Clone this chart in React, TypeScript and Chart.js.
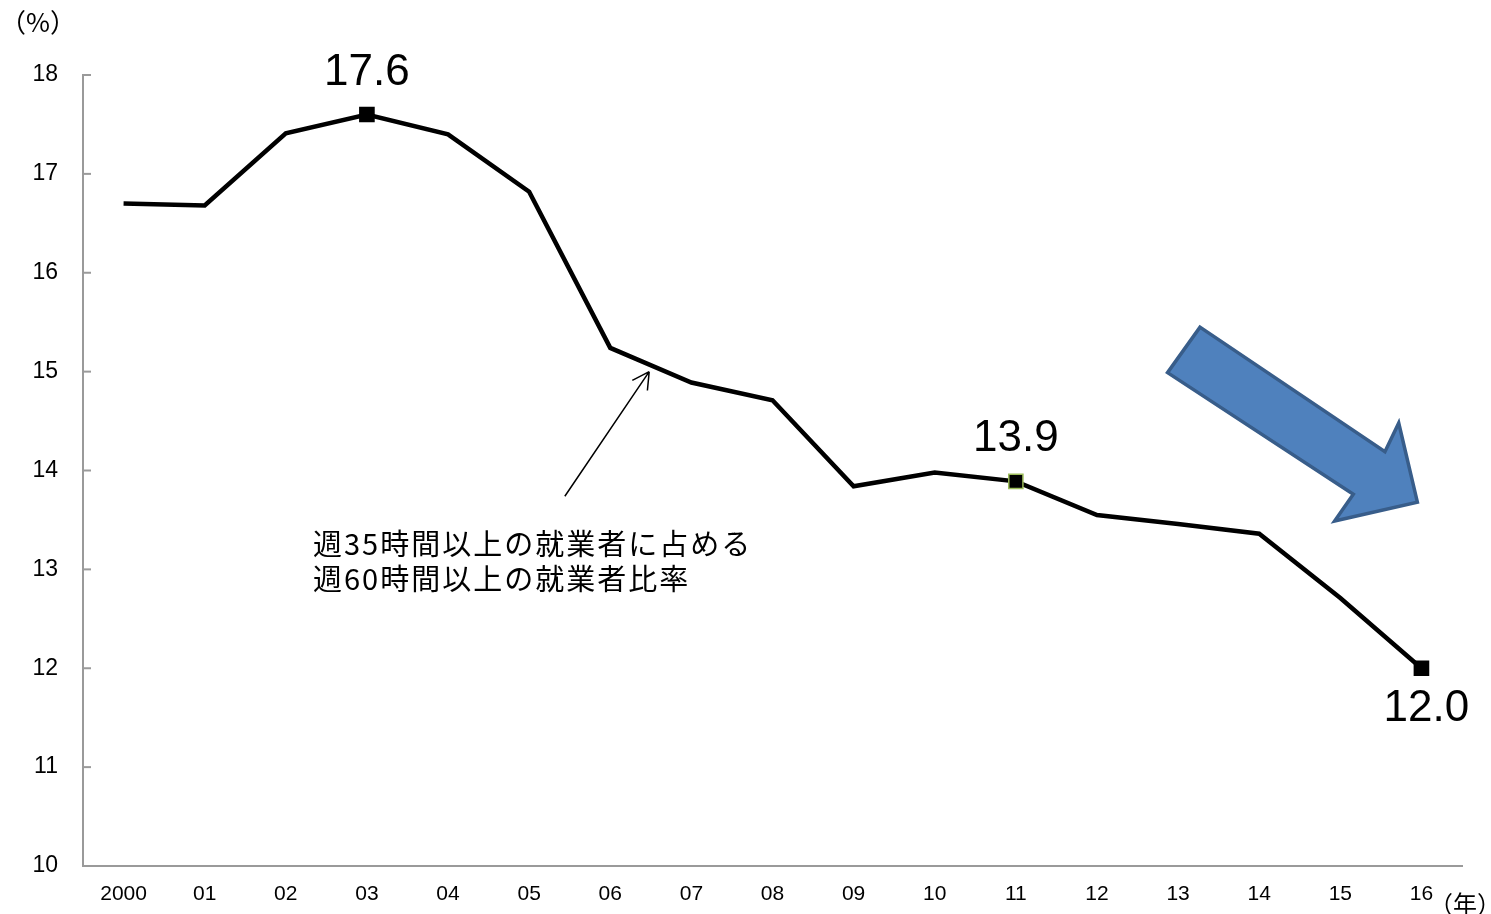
import React, { useEffect, useRef } from 'react';
import { Chart, registerables } from 'chart.js';

Chart.register(...registerables);

// ---- data ----
const years = ['2000', '01', '02', '03', '04', '05', '06', '07', '08', '09', '10', '11', '12', '13', '14', '15', '16'];
const ratio = [16.7, 16.68, 17.41, 17.6, 17.4, 16.82, 15.24, 14.89, 14.71, 13.84, 13.98, 13.89, 13.55, 13.46, 13.36, 12.71, 12.0];
const markerYears = ['03', '11', '16'];
const markerLabels = ['17.6', '13.9', '12.0'];
const markerPlacement = ['above', 'above', 'below'];
const yMin = 10;
const yMax = 18;
const yUnit = '（%）';
const xUnit = '（年）';
const noteLines = ['週35時間以上の就業者に占める', '週60時間以上の就業者比率'];
// annotation anchors in data space: [category index, value]
const noteAnchor = [2.335, 13.26];
const noteArrowFrom = [5.44, 13.74];
const noteArrowTo = [6.48, 15.0];
const trendArrow = [
  [13.27, 15.45],
  [15.55, 14.19],
  [15.72, 14.48],
  [15.95, 13.68],
  [14.93, 13.49],
  [15.16, 13.76],
  [12.87, 14.99],
];

const AXIS_COLOR = '#9a9a9a';
const JP_FONT = '"Noto Sans CJK JP", "Noto Sans", sans-serif';
const NUM_FONT = '"Liberation Sans", Arial, sans-serif';

const decorPlugin = {
  id: 'decor',
  afterDraw(chart: any) {
    const { ctx, chartArea, scales } = chart;
    const xs = scales.x;
    const ys = scales.y;
    const px = (p: number[]) => [xs.getPixelForValue(p[0]), ys.getPixelForValue(p[1])];
    ctx.save();

    // inward y tick marks
    ctx.strokeStyle = AXIS_COLOR;
    ctx.lineWidth = 2;
    ys.ticks.forEach((t: any) => {
      const y = ys.getPixelForValue(t.value);
      ctx.beginPath();
      ctx.moveTo(chartArea.left, y);
      ctx.lineTo(chartArea.left + 8, y);
      ctx.stroke();
    });

    // value labels
    const meta = chart.getDatasetMeta(0);
    ctx.fillStyle = '#000';
    ctx.font = `44px ${NUM_FONT}`;
    ctx.textAlign = 'center';
    ctx.textBaseline = 'alphabetic';
    markerYears.forEach((yr, i) => {
      const idx = years.indexOf(yr);
      const pt = meta.data[idx];
      if (markerPlacement[i] === 'above') {
        ctx.fillText(markerLabels[i], pt.x, pt.y - 30);
      } else {
        ctx.fillText(markerLabels[i], pt.x + 5, pt.y + 53);
      }
    });

    // unit labels
    ctx.textBaseline = 'middle';
    ctx.textAlign = 'center';
    ctx.font = `26px ${JP_FONT}`;
    ctx.fillText(yUnit, 38, 22);
    ctx.font = `24px ${JP_FONT}`;
    ctx.fillText(xUnit, 1465, 904);

    // note text
    const [nx, ny] = px(noteAnchor);
    ctx.font = `29px ${JP_FONT}`;
    ctx.textAlign = 'left';
    ctx.textBaseline = 'middle';
    try {
      ctx.letterSpacing = '2px';
    } catch (e) {}
    const lineGap = ys.getPixelForValue(yMax - 0.36) - ys.getPixelForValue(yMax);
    noteLines.forEach((ln, i) => ctx.fillText(ln, nx, ny + i * lineGap));
    try {
      ctx.letterSpacing = '0px';
    } catch (e) {}

    // note arrow
    const [ax, ay] = px(noteArrowFrom);
    const [bx, by] = px(noteArrowTo);
    ctx.strokeStyle = '#000';
    ctx.lineWidth = 1.5;
    ctx.beginPath();
    ctx.moveTo(ax, ay);
    ctx.lineTo(bx, by);
    const ang = Math.atan2(by - ay, bx - ax);
    const hl = 19;
    for (const s of [-1, 1]) {
      ctx.moveTo(bx, by);
      ctx.lineTo(bx - hl * Math.cos(ang + s * 0.5), by - hl * Math.sin(ang + s * 0.5));
    }
    ctx.stroke();

    // trend arrow
    ctx.beginPath();
    trendArrow.forEach((p, i) => {
      const [x, y] = px(p);
      if (i === 0) ctx.moveTo(x, y);
      else ctx.lineTo(x, y);
    });
    ctx.closePath();
    ctx.fillStyle = '#4F81BD';
    ctx.fill();
    ctx.lineWidth = 3.5;
    ctx.strokeStyle = '#385D8A';
    ctx.lineJoin = 'miter';
    ctx.stroke();

    ctx.restore();
  },
};

export default function App() {
  const ref = useRef<HTMLCanvasElement>(null);

  useEffect(() => {
    if (!ref.current) return;
    const markerIdx = markerYears.map((y) => years.indexOf(y));
    const chart = new Chart(ref.current, {
      type: 'line',
      data: {
        labels: years,
        datasets: [
          {
            data: ratio,
            borderColor: '#000',
            borderWidth: 4.5,
            tension: 0,
            fill: false,
            pointStyle: 'rect',
            pointRadius: years.map((_, i) => (markerIdx.includes(i) ? 10 : 0)),
            pointBackgroundColor: '#000',
            pointBorderColor: years.map((y) => (y === '11' ? '#9BBB59' : '#000')),
            pointBorderWidth: 1.5,
          },
        ],
      },
      options: {
        animation: false,
        responsive: true,
        maintainAspectRatio: false,
        layout: { padding: { left: 0, right: 29, top: 75, bottom: 0 } },
        plugins: {
          legend: { display: false },
          tooltip: { enabled: false },
        },
        scales: {
          x: {
            offset: true,
            grid: { display: true, drawOnChartArea: false, drawTicks: false, color: 'rgba(0,0,0,0)' },
            border: { display: true, color: AXIS_COLOR, width: 2 },
            ticks: {
              color: '#000',
              font: { family: NUM_FONT, size: 21 },
              padding: 16,
              maxRotation: 0,
              autoSkip: false,
            },
            afterFit: (s: any) => {
              s.height = 48;
            },
          },
          y: {
            min: yMin,
            max: yMax,
            grid: { display: true, drawOnChartArea: false, drawTicks: false, color: 'rgba(0,0,0,0)' },
            border: { display: true, color: AXIS_COLOR, width: 2 },
            ticks: {
              stepSize: 1,
              color: '#000',
              font: { family: NUM_FONT, size: 23 },
              padding: 25,
            },
            afterFit: (s: any) => {
              s.width = 83;
            },
          },
        },
      },
      plugins: [decorPlugin],
    });
    return () => chart.destroy();
  }, []);

  return (
    <div style={{ position: 'fixed', left: 0, top: 0, width: 1491, height: 914, background: '#fff' }}>
      <canvas ref={ref} />
    </div>
  );
}
